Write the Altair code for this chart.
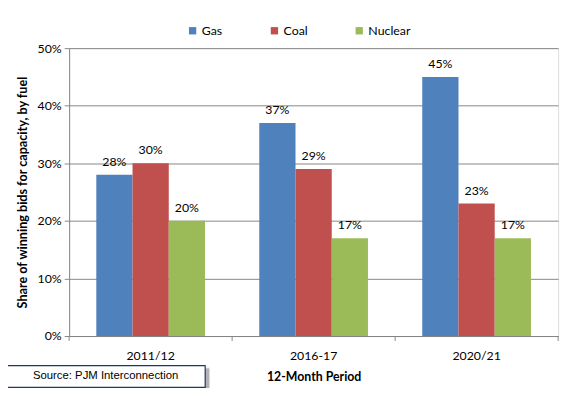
import altair as alt
import pandas as pd

periods = ["2011/12", "2016-17", "2020/21"]
fuels = ["Gas", "Coal", "Nuclear"]
gas = [0.28, 0.37, 0.45]
coal = [0.30, 0.29, 0.23]
nuclear = [0.20, 0.17, 0.17]
colors = ["#4F81BD", "#C0504D", "#9BBB59"]
y_ticks = [0, 0.1, 0.2, 0.3, 0.4, 0.5]
source_text = ["Source: PJM Interconnection"]

rows = []
for i, p in enumerate(periods):
    for f, vals in zip(fuels, [gas, coal, nuclear]):
        rows.append({"period": p, "fuel": f, "share": vals[i]})
df = pd.DataFrame(rows)

W, H = 496, 292
FONT = "Lato"
GRID = "#868686"

x = alt.X(
    "period:N", sort=periods,
    scale=alt.Scale(paddingInner=0.333, paddingOuter=0.1667),
    axis=alt.Axis(title="12-Month Period", labelAngle=0, ticks=False,
                  domainColor=GRID, labelFontSize=12.5, titleFontSize=12.5,
                  titleFontWeight="bold", labelPadding=14, titlePadding=9,
                  labelColor="black", titleColor="black", labelFont=FONT, titleFont=FONT),
)
xoff = alt.XOffset("fuel:N", sort=fuels, scale=alt.Scale(paddingInner=0, paddingOuter=0))
y = alt.Y(
    "share:Q", scale=alt.Scale(domain=[0, 0.5]),
    axis=alt.Axis(format=".0%", values=y_ticks, title="Share of winning bids for capacity, by fuel",
                  gridColor=GRID, domainColor=GRID, tickColor=GRID, tickSize=5,
                  labelFontSize=12.5, titleFontSize=12.8, titleFontWeight="bold",
                  labelColor="black", titleColor="black", labelPadding=3, titlePadding=8,
                  labelFont=FONT, titleFont=FONT),
)
color = alt.Color(
    "fuel:N", sort=fuels, scale=alt.Scale(domain=fuels, range=colors),
    legend=alt.Legend(orient="none", direction="horizontal", legendX=119, legendY=-24,
                      title=None, symbolType="square", symbolSize=55, symbolStrokeWidth=0,
                      columnPadding=46, labelFontSize=12.5, labelFont=FONT, labelColor="black",
                      labelOffset=3),
)

bars = alt.Chart(df).mark_bar().encode(x=x, xOffset=xoff, y=y, color=color)
labels = alt.Chart(df).mark_text(baseline="bottom", dy=-6, fontSize=12.5, font=FONT, color="black").encode(
    x=alt.X("period:N", sort=periods), xOffset=alt.XOffset("fuel:N", sort=fuels),
    y="share:Q", text=alt.Text("share:Q", format=".0%"),
)
main = alt.layer(bars, labels)

ticks_df = pd.DataFrame({"pos": [0, 1, 2, 3]})
cat_ticks = alt.Chart(ticks_df).mark_rule(color=GRID).encode(
    x=alt.X("pos:Q", scale=alt.Scale(domain=[0, 3]), axis=None),
    y=alt.value(H), y2=alt.value(H + 5),
)

src_df = pd.DataFrame({"t": source_text})
shadow2 = alt.Chart(src_df).mark_rect(color="#000000", opacity=0.10).encode(
    x=alt.value(-61), x2=alt.value(143), y=alt.value(324), y2=alt.value(349))
shadow = alt.Chart(src_df).mark_rect(color="#000000", opacity=0.22).encode(
    x=alt.value(-60), x2=alt.value(142), y=alt.value(325), y2=alt.value(348))
box = alt.Chart(src_df).mark_rect(fill="white", stroke="#1F3864", strokeWidth=1.2).encode(
    x=alt.value(-63), x2=alt.value(138), y=alt.value(322), y2=alt.value(344))
src = alt.Chart(src_df).mark_text(font="Liberation Sans", fontSize=11.5, color="black").encode(
    x=alt.value(37), y=alt.value(333), text="t:N")

chart = alt.layer(main, cat_ticks, shadow2, shadow, box, src).resolve_scale(
    x="independent"
).properties(
    width=W, height=H,
    autosize=alt.AutoSizeParams(type="none"),
    padding={"left": 62, "top": 38, "right": 9, "bottom": 50},
).configure_view(stroke=None).configure(background="white")

chart.save("out.html", embed_options={"renderer": "svg", "actions": False})
